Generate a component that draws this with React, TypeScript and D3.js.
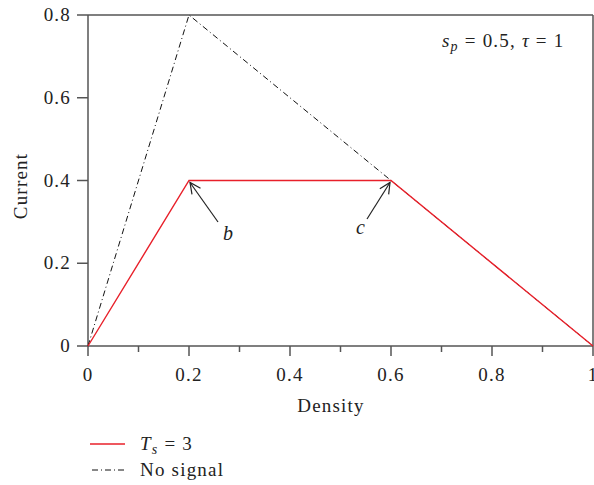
import React from "react";
import * as d3 from "d3";

const redX = [0, 0.2, 0.6, 1];
const redY = [0, 0.4, 0.4, 0];
const blackX = [0, 0.2, 0.6, 1];
const blackY = [0, 0.8, 0.4, 0];
const xTicks = [0, 0.2, 0.4, 0.6, 0.8, 1];
const xMinor = [0.1, 0.3, 0.5, 0.7, 0.9];
const yTicks = [0, 0.2, 0.4, 0.6, 0.8];
const xTickLabels = ["0", "0.2", "0.4", "0.6", "0.8", "1"];
const yTickLabels = ["0", "0.2", "0.4", "0.6", "0.8"];

const FONT = "'Liberation Serif', 'Times New Roman', serif";
const FS = 19;
const LS = 1.2;

export default function App() {
  const W = 594, H = 485;
  const x = d3.scaleLinear().domain([0, 1]).range([88, 593]);
  const y = d3.scaleLinear().domain([0, 0.8]).range([346, 15]);
  const line = d3.line<[number, number]>().x(d => x(d[0])).y(d => y(d[1]));
  const red = redX.map((v, i) => [v, redY[i]] as [number, number]);
  const black = blackX.map((v, i) => [v, blackY[i]] as [number, number]);
  const axisColor = "#555";
  const arrowHead = (tx: number, ty: number, fx: number, fy: number) => {
    const ang = Math.atan2(fy - ty, fx - tx);
    const L = 12, a = 0.45;
    const p1 = [tx + L * Math.cos(ang + a), ty + L * Math.sin(ang + a)];
    const p2 = [tx + L * Math.cos(ang - a), ty + L * Math.sin(ang - a)];
    return `M${p1[0]},${p1[1]}L${tx},${ty}L${p2[0]},${p2[1]}`;
  };
  const bTip = [x(0.2) + 1, y(0.4) + 2];
  const bFrom = [218, 222];
  const cTip = [x(0.6) - 1, y(0.4) + 2];
  const cFrom = [367, 219];
  return (
    <svg width={W} height={H} style={{ position: "absolute", left: 0, top: 0, display: "block" }} fontFamily={FONT} letterSpacing={LS}>
      <rect width={W} height={H} fill="#fff" />
      {/* frame */}
      <line x1={x(0)} x2={x(1)} y1={y(0.8)} y2={y(0.8)} stroke={axisColor} strokeWidth={1.5} />
      <line x1={x(1)} x2={x(1)} y1={y(0.8)} y2={y(0)} stroke={axisColor} strokeWidth={1.5} />
      <line x1={x(0)} x2={x(1)} y1={y(0)} y2={y(0)} stroke={axisColor} strokeWidth={1.5} />
      <line x1={x(0)} x2={x(0)} y1={y(0.8)} y2={y(0)} stroke={axisColor} strokeWidth={1.5} />
      {xTicks.map((t, i) => (
        <g key={"xt" + i}>
          <line x1={x(t)} x2={x(t)} y1={y(0)} y2={y(0) + 10} stroke={axisColor} strokeWidth={1.5} />
          <text x={x(t)} y={381} fontSize={FS} textAnchor="middle" fill="#222">{xTickLabels[i]}</text>
        </g>
      ))}
      {xMinor.map((t, i) => (
        <line key={"xm" + i} x1={x(t)} x2={x(t)} y1={y(0)} y2={y(0) + 6} stroke={axisColor} strokeWidth={1.5} />
      ))}
      {yTicks.map((t, i) => (
        <g key={"yt" + i}>
          <line x1={x(0) - 11} x2={x(0)} y1={y(t)} y2={y(t)} stroke={axisColor} strokeWidth={1.5} />
          <text x={71} y={y(t) + 6} fontSize={FS} textAnchor="end" fill="#222">{yTickLabels[i]}</text>
        </g>
      ))}
      <text x={331} y={412} fontSize={FS} textAnchor="middle" fill="#222">Density</text>
      <text transform="translate(27,186) rotate(-90)" fontSize={FS} textAnchor="middle" fill="#222">Current</text>
      {/* lines */}
      <path d={line(black) || ""} fill="none" stroke="#111" strokeWidth={1} strokeDasharray="6,3,1,3" />
      <path d={line(red) || ""} fill="none" stroke="#e8202a" strokeWidth={1.4} />
      {/* arrows */}
      <line x1={bFrom[0]} y1={bFrom[1]} x2={bTip[0]} y2={bTip[1]} stroke="#222" strokeWidth={1.2} />
      <path d={arrowHead(bTip[0], bTip[1], bFrom[0], bFrom[1])} fill="none" stroke="#222" strokeWidth={1.2} />
      <line x1={cFrom[0]} y1={cFrom[1]} x2={cTip[0]} y2={cTip[1]} stroke="#222" strokeWidth={1.2} />
      <path d={arrowHead(cTip[0], cTip[1], cFrom[0], cFrom[1])} fill="none" stroke="#222" strokeWidth={1.2} />
      <text x={223} y={240} fontSize={20} fontStyle="italic" fill="#222">b</text>
      <text x={356} y={234} fontSize={20} fontStyle="italic" fill="#222">c</text>
      {/* annotation */}
      <text x={442} y={47} fontSize={FS} fill="#222">
        <tspan fontStyle="italic">s</tspan>
        <tspan fontStyle="italic" fontSize={14} dy={4}>p</tspan>
        <tspan dy={-4}> = 0.5, </tspan>
        <tspan fontStyle="italic">τ</tspan>
        <tspan> = 1</tspan>
      </text>
      {/* legend */}
      <line x1={90} x2={125} y1={444} y2={444} stroke="#e8202a" strokeWidth={1.4} />
      <text x={140} y={450} fontSize={FS} fill="#222">
        <tspan fontStyle="italic">T</tspan>
        <tspan fontStyle="italic" fontSize={14} dy={4}>s</tspan>
        <tspan dy={-4}> = 3</tspan>
      </text>
      <line x1={92} x2={127} y1={470} y2={470} stroke="#111" strokeWidth={1} strokeDasharray="6,3,1,3" />
      <text x={140} y={476} fontSize={FS} fill="#222">No signal</text>
    </svg>
  );
}
